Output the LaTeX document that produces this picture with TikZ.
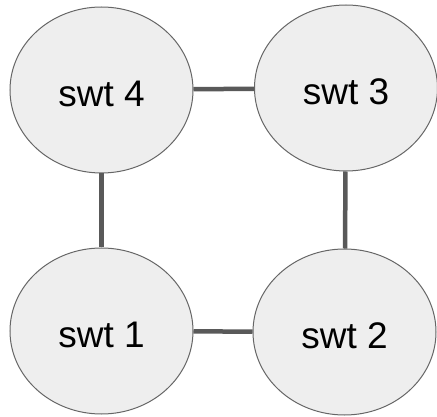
\documentclass[tikz,border=0pt]{standalone}
\usepackage{fontspec}
\setmainfont{Liberation Sans}
\usetikzlibrary{shapes.geometric}
\definecolor{fillgray}{HTML}{EEEEEE}
\definecolor{bordergray}{HTML}{666666}
\definecolor{linkgray}{HTML}{595959}
\tikzset{
  swt/.style={ellipse, draw=bordergray, line width=1pt, fill=fillgray,
    minimum width=183pt, minimum height=166pt, inner sep=0pt,
    text height=33.5pt, text depth=0pt,
    font=\fontsize{37}{44}\selectfont},
  link/.style={draw=linkgray, line width=4.5pt}
}
\begin{document}
\begin{tikzpicture}[x=1pt,y=-1pt]
\useasboundingbox (0,0) rectangle (437,417);
\node[swt] (s4) at (101.5,90) {swt 4};
\node[swt] (s3) at (346,88) {swt 3};
\node[swt] (s1) at (101.5,331) {swt 1};
\node[swt] (s2) at (344.5,332) {swt 2};
\draw[link] (s4) -- (s3);
\draw[link] (s4) -- (s1);
\draw[link] (s3) -- (s2);
\draw[link] (s1) -- (s2);
\end{tikzpicture}
\end{document}
